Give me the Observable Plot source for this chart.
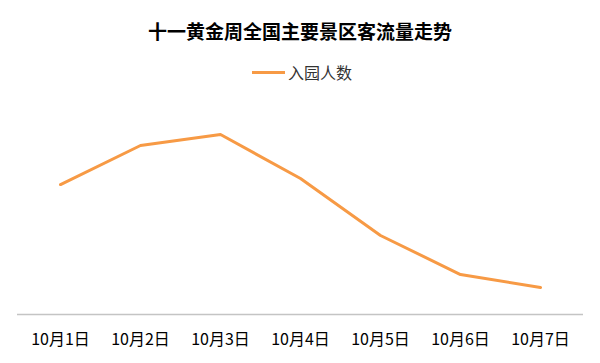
<!DOCTYPE html>
<html><head><meta charset="utf-8">
<script src="https://cdn.jsdelivr.net/npm/d3@7"></script>
<script src="https://cdn.jsdelivr.net/npm/@observablehq/plot@0.6"></script>
<style>
body{margin:0;background:#fff;font-family:"Noto Sans CJK SC","Noto Sans",sans-serif;}
#wrap{position:relative;width:600px;height:363px;overflow:hidden;}
#title{position:absolute;left:0;top:17px;width:600px;text-align:center;font-size:19px;font-weight:bold;color:#000;line-height:28px;}
#legend{position:absolute;left:252px;top:60px;display:flex;align-items:center;font-size:16px;color:#333;line-height:24px;}
#legend .sw{width:33px;height:3px;background:#f79a45;margin-right:3px;}
#chart{position:absolute;left:0;top:0;}
</style></head>
<body><div id="wrap"><div id="chart"></div><div id="title"></div><div id="legend"><span class="sw"></span><span id="lgtext"></span></div></div>
<script>
const titleText = "十一黄金周全国主要景区客流量走势";
const seriesName = "入园人数";
const dates = ["10月1日","10月2日","10月3日","10月4日","10月5日","10月6日","10月7日"];
const visitors = [712, 926, 986, 745, 433, 219, 148];

document.getElementById("title").textContent = titleText;
document.getElementById("lgtext").textContent = seriesName;

const data = dates.map((d, i) => ({date: d, value: visitors[i]}));

const plot = Plot.plot({
  width: 600,
  height: 363,
  marginLeft: 17,
  marginRight: 17,
  marginTop: 95,
  marginBottom: 49,
  style: {fontFamily: '"Noto Sans CJK SC","Noto Sans",sans-serif', fontSize: "16px", color: "#000", background: "#fff"},
  x: {type: "point", domain: dates, padding: 0.5, label: null, tickSize: 0, tickPadding: 19},
  y: {domain: [0, 1200], axis: null},
  marks: [
    Plot.ruleY([0], {stroke: "#c4c4c4", strokeWidth: 1.5}),
    Plot.line(data, {x: "date", y: "value", stroke: "#f79a45", strokeWidth: 3, strokeLinejoin: "round"})
  ]
});
document.getElementById("chart").appendChild(plot);
</script></body></html>
